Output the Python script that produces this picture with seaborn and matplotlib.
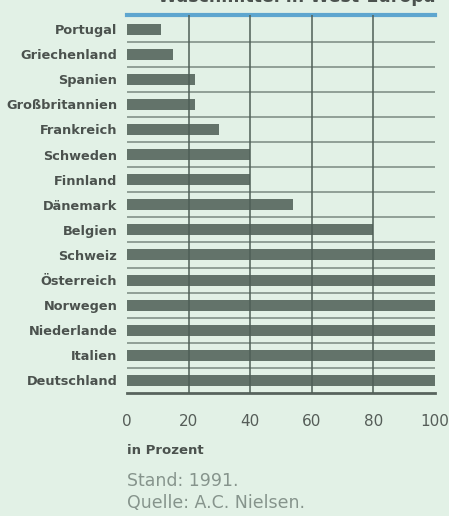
import numpy as np
import pandas as pd
import matplotlib
matplotlib.use("Agg")
import matplotlib.pyplot as plt
import seaborn as sns

# Data
countries = ["Portugal", "Griechenland", "Spanien", "Großbritannien", "Frankreich",
             "Schweden", "Finnland", "Dänemark", "Belgien", "Schweiz",
             "Österreich", "Norwegen", "Niederlande", "Italien", "Deutschland"]
shares = [11, 15, 22, 22, 30, 40, 40, 54, 80, 100, 100, 100, 100, 100, 100]
xticks = [0, 20, 40, 60, 80, 100]

df = pd.DataFrame({"Land": countries, "Anteil": shares})

bg = "#e2f1e6"
bar_col = "#63736a"
txt_col = "#4b524e"

sns.set_style("white")
plt.rcParams["font.family"] = ["DejaVu Sans"]

fig = plt.figure(figsize=(4.49, 5.16), dpi=100, facecolor=bg)
ax = fig.add_axes([127 / 449, 1 - 393 / 516, 308 / 449, 378 / 516])
ax.set_facecolor(bg)

sns.barplot(data=df, x="Anteil", y="Land", orient="h", color=bar_col,
            width=0.44, saturation=1, linewidth=0, ax=ax, zorder=2)

# row separators and vertical grid
for yy in np.arange(0.5, len(countries) - 1, 1.0):
    ax.axhline(yy, color="#8a9990", lw=1.3, zorder=1)
for xx in xticks[1:-1]:
    ax.axvline(xx, color="#4f5f57", lw=1.1, zorder=3)

ax.set_xlim(0, 100)
ax.set_ylim(len(countries) - 0.5, -0.56)

for s in ["left", "right"]:
    ax.spines[s].set_visible(False)
ax.spines["top"].set_color("#5ea6cf")
ax.spines["top"].set_linewidth(3)
ax.spines["bottom"].set_color("#58645e")
ax.spines["bottom"].set_linewidth(2)

ax.set_xticks(xticks)
ax.set_xticklabels([str(t) for t in xticks], fontsize=11, color="#555d58")
ax.tick_params(axis="x", length=0, pad=15)
ax.tick_params(axis="y", length=0, pad=7)
for lab in ax.get_yticklabels():
    lab.set_fontsize(9.3)
    lab.set_fontweight("bold")
    lab.set_color(txt_col)
ax.set_xlabel("")
ax.set_ylabel("")

# title (cut off at the top edge in the reference)
fig.text(435 / 449, 1 - 2 / 516, "Waschmittel in West-Europa", ha="right",
         va="baseline", fontsize=12.5, fontweight="bold", color=txt_col)

fig.text(127 / 449, 1 - 454 / 516, "in Prozent", ha="left", va="baseline",
         fontsize=9.5, fontweight="bold", color=txt_col)
fig.text(127 / 449, 1 - 486 / 516, "Stand: 1991.", ha="left", va="baseline",
         fontsize=12.5, color="#86948c")
fig.text(127 / 449, 1 - 508 / 516, "Quelle: A.C. Nielsen.", ha="left", va="baseline",
         fontsize=12.5, color="#86948c")

fig.savefig("out.png", dpi=100, facecolor=bg)
